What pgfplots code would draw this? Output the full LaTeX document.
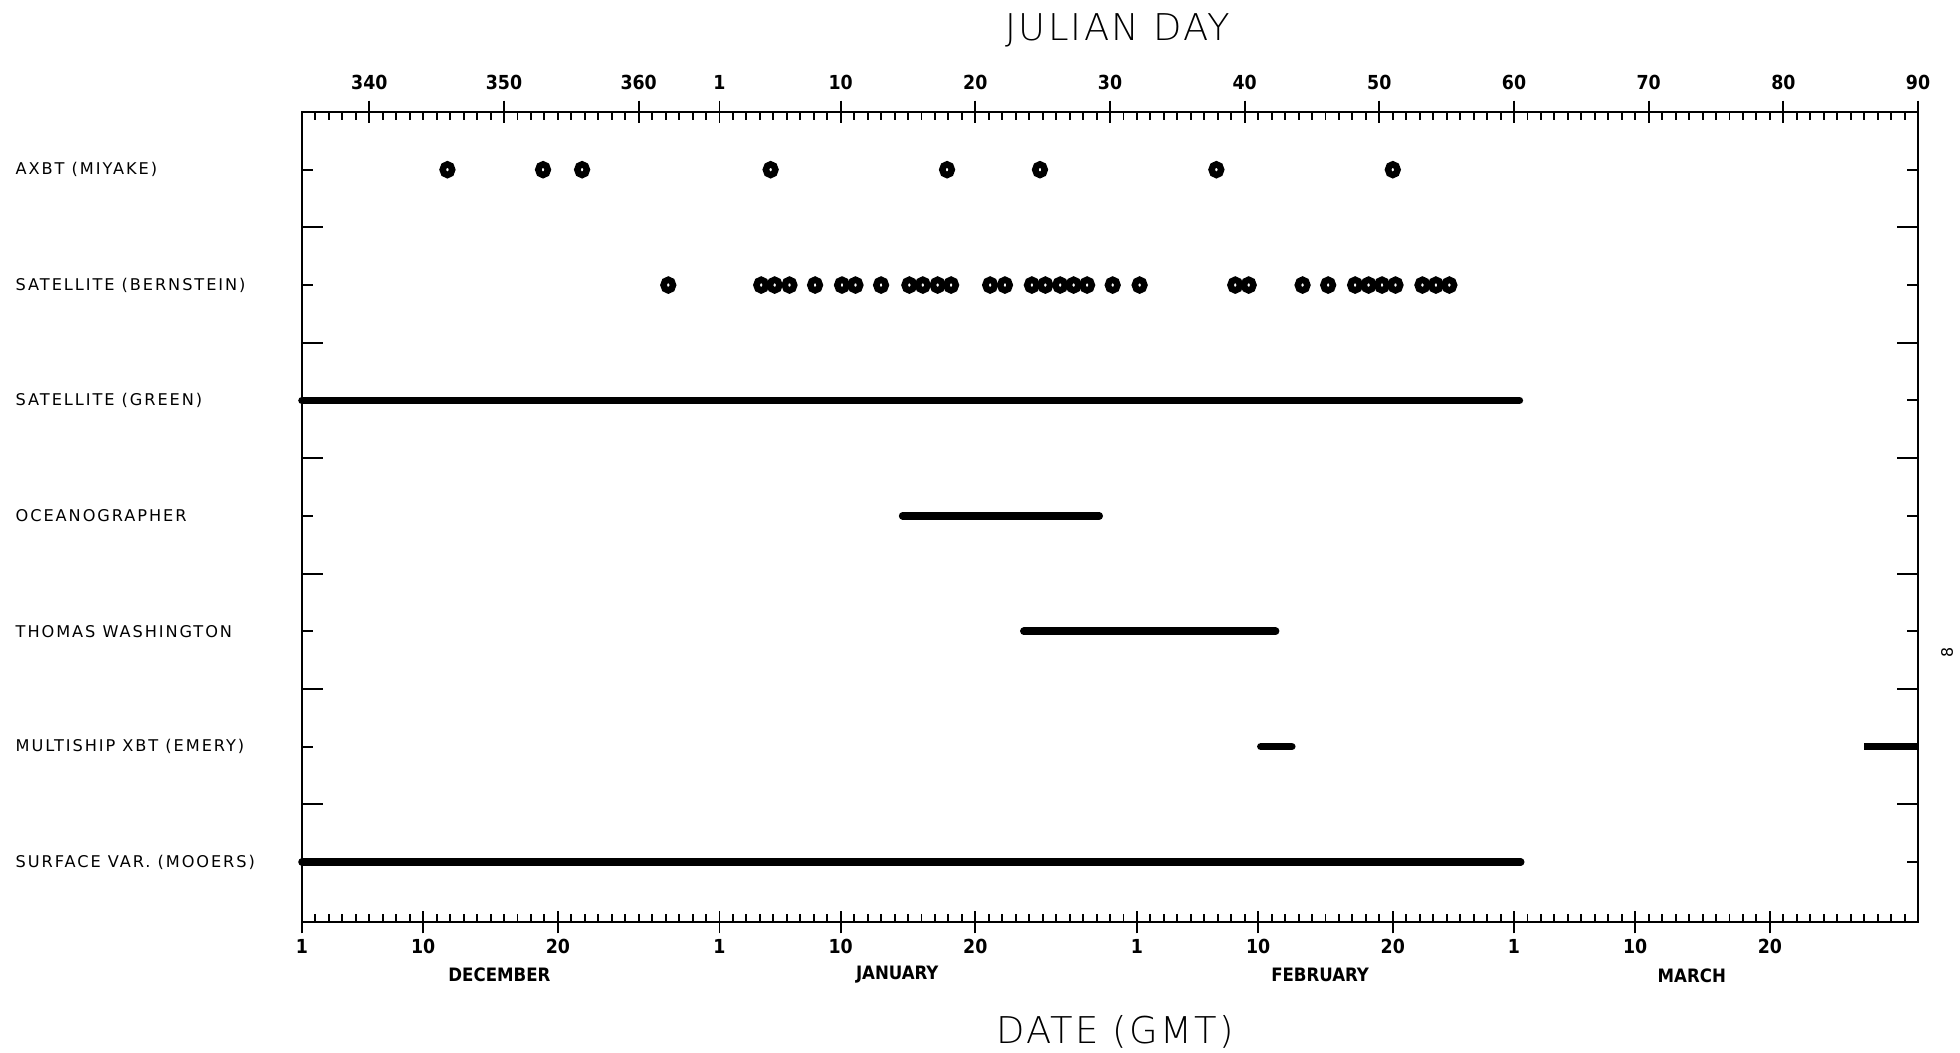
\documentclass[border=0pt]{standalone}
\usepackage{fontspec}
\usepackage{pgfplots}
\pgfplotsset{compat=1.18}
\setmainfont{DejaVu Sans}
\newfontfamily\lblfont{DejaVu Sans}[LetterSpace=12]
\newfontfamily\tickfont{DejaVu Sans Condensed Bold}
\newfontfamily\titlefont{DejaVu Sans ExtraLight}[LetterSpace=6]
\begin{document}
\begin{tikzpicture}[x=1cm,y=1cm]
\useasboundingbox (-6.04,-2.6) rectangle (33.16,18.44);
\pgfplotsset{
  base/.style={
    scale only axis, width=32.32cm, height=16.2cm,
    xmin=0, xmax=120, ymin=0.48, ymax=7.5,
    at={(0,0)}, anchor=south west,
    axis line style={line width=1.6pt},
    tick style={line width=1.1pt, black},
  }
}
% data axis with row ticks and labels
\begin{axis}[base,
  xtick=\empty,
  ytick={1,2,3,4,5,6,7},
  yticklabels={SURFACE VAR. (MOOERS), MULTISHIP XBT (EMERY), THOMAS WASHINGTON, OCEANOGRAPHER, SATELLITE (GREEN), SATELLITE (BERNSTEIN), AXBT (MIYAKE)},
  minor ytick={1.5,2.5,3.5,4.5,5.5,6.5},
  tick align=inside,
  major tick length=0.22cm, minor tick length=0.42cm,
  yticklabel style={anchor=west, xshift=-5.85cm, font=\lblfont\fontsize{9.2}{10}\selectfont},
  clip=false,
]
% AXBT (Miyake)
\addplot[only marks, mark=o, mark size=0.95mm, mark options={line width=1.3mm, yscale=1.12}] coordinates {
 (10.8,7) (17.9,7) (20.8,7) (34.8,7) (47.9,7) (54.8,7) (67.9,7) (81.0,7)};
% Satellite (Bernstein)
\addplot[only marks, mark=o, mark size=0.95mm, mark options={line width=1.3mm, yscale=1.12}] coordinates {
 (27.2,6) (34.1,6) (35.1,6) (36.2,6) (38.1,6) (40.1,6) (41.1,6) (43.0,6)
 (45.1,6) (46.1,6) (47.2,6) (48.2,6) (51.1,6) (52.2,6) (54.2,6) (55.2,6)
 (56.3,6) (57.3,6) (58.3,6) (60.2,6) (62.2,6) (69.3,6) (70.3,6) (74.3,6)
 (76.2,6) (78.2,6) (79.2,6) (80.2,6) (81.2,6) (83.2,6) (84.2,6) (85.2,6)};
% Satellite (Green)
\addplot[line width=4.3pt, line cap=round] coordinates {(0,5) (90.4,5)};
% Oceanographer
\addplot[line width=4.3pt, line cap=round] coordinates {(44.6,4) (59.2,4)};
% Thomas Washington
\addplot[line width=4.3pt, line cap=round] coordinates {(53.6,3) (72.3,3)};
% Multiship XBT (Emery)
\addplot[line width=4.3pt, line cap=round] coordinates {(71.2,2) (73.5,2)};
\addplot[line width=4.3pt, line cap=butt] coordinates {(116.0,2) (120,2)};
% Surface var. (Mooers)
\addplot[line width=4.3pt, line cap=round] coordinates {(0,1) (90.5,1)};
\end{axis}
% bottom date axis
\begin{axis}[base,
  ytick=\empty,
  xtick={0,1,...,120}, xticklabels={},
  xtick pos=lower,
  tick align=inside, major tick length=0.16cm,
  extra x ticks={0,9,19,31,40,50,62,71,81,90,99,109},
  extra x tick labels={1,10,20,1,10,20,1,10,20,1,10,20},
  extra x tick style={tick align=center, major tick length=0.45cm,
    xticklabel style={font=\tickfont\fontsize{11}{12}\selectfont}},
  clip=false,
]
\node[font=\tickfont\fontsize{10.5}{12}\selectfont] at (axis cs:14.66,0.48) [yshift=-1.05cm] {DECEMBER};
\node[font=\tickfont\fontsize{10.5}{12}\selectfont] at (axis cs:44.2,0.48) [yshift=-1.05cm] {JANUARY};
\node[font=\tickfont\fontsize{10.5}{12}\selectfont] at (axis cs:75.6,0.48) [yshift=-1.05cm] {FEBRUARY};
\node[font=\tickfont\fontsize{10.5}{12}\selectfont] at (axis cs:103.2,0.48) [yshift=-1.07cm] {MARCH};
\end{axis}
% top Julian-day axis
\begin{axis}[base,
  ytick=\empty,
  xtick={0,1,...,120}, xticklabels={},
  xtick pos=upper, xticklabel pos=upper,
  tick align=inside, major tick length=0.16cm,
  extra x ticks={5,15,25,31,40,50,60,70,80,90,100,110,120},
  extra x tick labels={340,350,360,1,10,20,30,40,50,60,70,80,90},
  extra x tick style={tick align=center, major tick length=0.45cm,
    xticklabel style={font=\tickfont\fontsize{11}{12}\selectfont, yshift=0.1cm}},
]
\end{axis}
\node[font=\titlefont\fontsize{21}{24}\selectfont] at (16.32,17.84) {JULIAN DAY};
\node[font=\titlefont\fontsize{21}{24}\selectfont] at (16.26,-2.2) {DATE (GMT)};
\node[font=\lblfont\fontsize{9}{10}\selectfont, rotate=90] at (32.9,5.4) {8};
\end{tikzpicture}
\end{document}
